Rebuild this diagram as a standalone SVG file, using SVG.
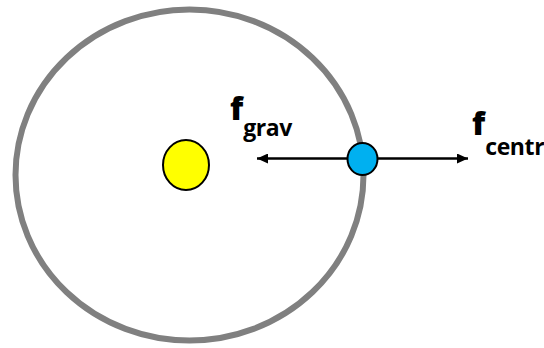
<svg xmlns="http://www.w3.org/2000/svg" width="544" height="348" viewBox="0 0 544 348">
<style>
.lbl{font-family:"Open Sans","DejaVu Sans",sans-serif;font-weight:bold;fill:#000}
.big{font-size:32px;font-weight:800}
.sub{font-size:23px;letter-spacing:-0.4px}
.conn{stroke:#000;stroke-width:2.5;fill:none}
</style>
<defs>
<marker id="ah" viewBox="0 0 11 10" refX="11" refY="5" markerWidth="11" markerHeight="10" markerUnits="userSpaceOnUse" orient="auto">
<path d="M0,0 L11,5 L0,10 Z" fill="#000"/>
</marker>
</defs>
<rect width="544" height="348" fill="#fff"/>
<g id="orbit"><ellipse cx="189.5" cy="175" rx="174" ry="165.5" fill="none" stroke="#808080" stroke-width="6"/></g>
<g id="connectors">
<line class="conn" x1="362" y1="158.5" x2="257" y2="158.5" marker-end="url(#ah)"/>
<line class="conn" x1="362" y1="158.5" x2="468" y2="158.5" marker-end="url(#ah)"/>
</g>
<g id="sun"><ellipse cx="186" cy="165" rx="23" ry="25" fill="#ffff00" stroke="#000" stroke-width="2"/></g>
<g id="planet"><ellipse cx="362.5" cy="159" rx="15" ry="16" fill="#00b0f0" stroke="#000" stroke-width="2"/></g>
<g id="label-grav"><text class="lbl" x="230" y="120"><tspan class="big">f</tspan><tspan class="sub" dy="16">grav</tspan></text></g>
<g id="label-centr"><text class="lbl" x="472" y="135"><tspan class="big">f</tspan><tspan class="sub" dy="20">centr</tspan></text></g>
</svg>
